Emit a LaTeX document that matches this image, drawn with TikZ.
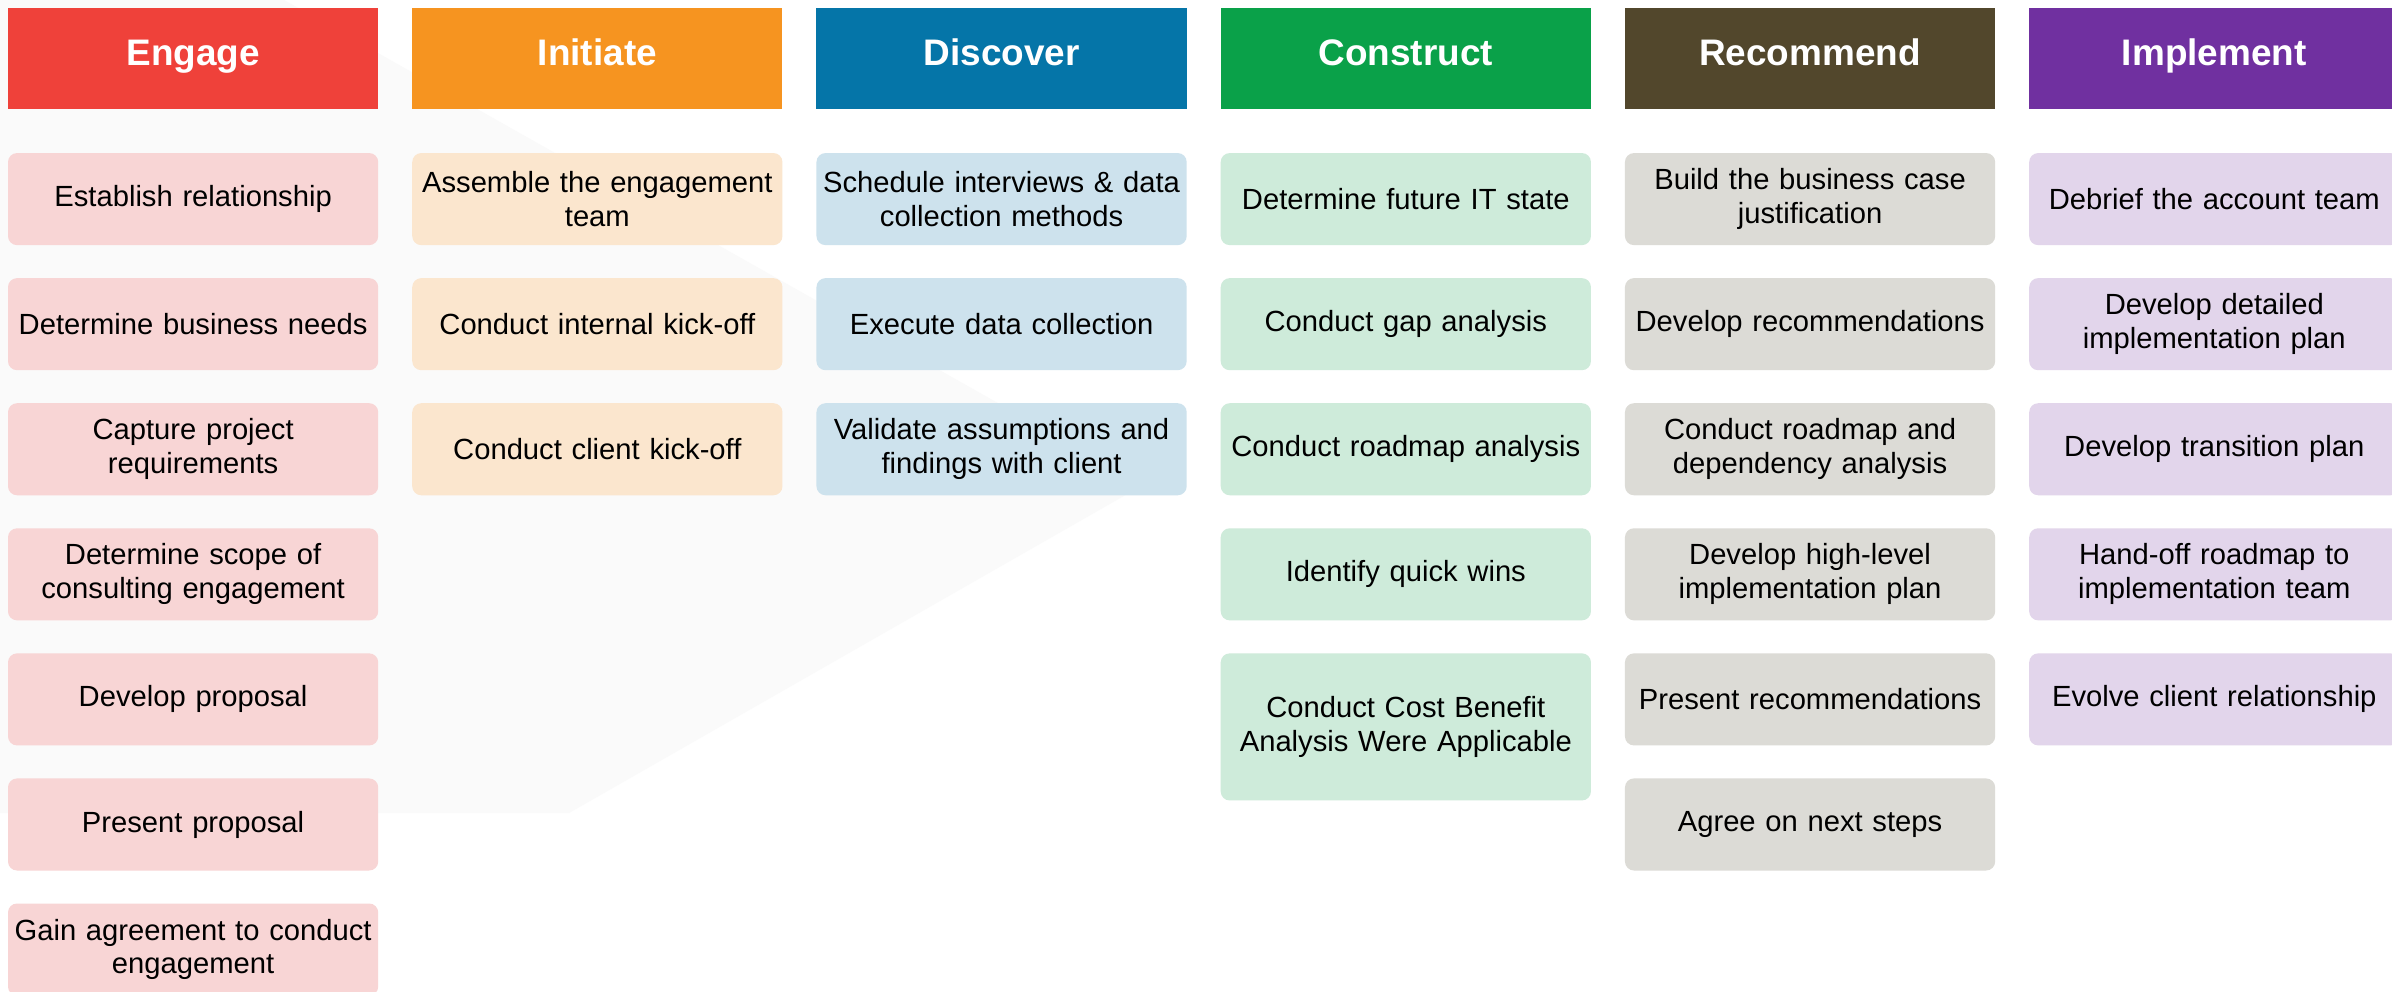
\documentclass[tikz,border=0pt]{standalone}
\usepackage{fontspec}
\setmainfont{Liberation Sans}
\usetikzlibrary{positioning}

\definecolor{engred}{HTML}{EF413A}
\definecolor{inioran}{HTML}{F69420}
\definecolor{disblue}{HTML}{0575A8}
\definecolor{congreen}{HTML}{0AA149}
\definecolor{recbrown}{HTML}{52472C}
\definecolor{imppurple}{HTML}{7030A0}
\definecolor{englight}{HTML}{F8D5D5}
\definecolor{inilight}{HTML}{FBE6CE}
\definecolor{dislight}{HTML}{CDE2ED}
\definecolor{conlight}{HTML}{CEEBDA}
\definecolor{reclight}{HTML}{DCDBD6}
\definecolor{implight}{HTML}{E2D5EB}
\definecolor{bgshade}{HTML}{FAFAFA}

\begin{document}
\begin{tikzpicture}[
            x = 0.01cm, y = -0.01cm, % pixel units, y pointing down
            node distance = 0.33cm and 0.34cm, % gap between cards / columns
            inner sep = 0pt,
            outer sep = 0pt
        ]

        \tikzstyle{phase}=[
            minimum width = 3.70cm,
            minimum height = 1.01cm,
            text = white,
            text height = 7.5pt,
            text depth = 3.8pt,
            font = \fontsize{10.5}{12}\selectfont\bfseries
        ]
        \tikzstyle{card}=[
            minimum width = 3.70cm,
            minimum height = 0.92cm,
            text width = 3.60cm,
            align = center,
            rounded corners = 0.09cm,
            font = \fontsize{8.3}{9.6}\selectfont
        ]

        \useasboundingbox (0,0) rectangle (2392,992);
        \fill[white] (0,0) rectangle (2392,992);
        % faint backdrop chevron
        \fill[bgshade] (0,0) -- (284,0) -- (1143,485) -- (569,813) -- (0,813) -- cycle;

	\node[phase, fill=engred, anchor=north west] (eng) at (8,8) {Engage};
	\node[phase, fill=inioran] (ini) [right=of eng] {Initiate};
	\node[phase, fill=disblue] (dis) [right=of ini] {Discover};
	\node[phase, fill=congreen] (con) [right=of dis] {Construct};
	\node[phase, fill=recbrown] (rec) [right=of con] {Recommend};
	\node[phase, fill=imppurple] (imp) [right=of rec] {Implement};

	% Engage
	\node[card, fill=englight] (eng1) [below=0.44cm of eng] {Establish relationship};
	\node[card, fill=englight] (eng2) [below=of eng1] {Determine business needs};
	\node[card, fill=englight] (eng3) [below=of eng2] {Capture project\\requirements};
	\node[card, fill=englight] (eng4) [below=of eng3] {Determine scope of\\consulting engagement};
	\node[card, fill=englight] (eng5) [below=of eng4] {Develop proposal};
	\node[card, fill=englight] (eng6) [below=of eng5] {Present proposal};
	\node[card, fill=englight] (eng7) [below=of eng6] {Gain agreement to conduct\\engagement};

	% Initiate
	\node[card, fill=inilight] (ini1) [below=0.44cm of ini] {Assemble the engagement\\team};
	\node[card, fill=inilight] (ini2) [below=of ini1] {Conduct internal kick-off};
	\node[card, fill=inilight] (ini3) [below=of ini2] {Conduct client kick-off};

	% Discover
	\node[card, fill=dislight] (dis1) [below=0.44cm of dis] {Schedule interviews \& data\\collection methods};
	\node[card, fill=dislight] (dis2) [below=of dis1] {Execute data collection};
	\node[card, fill=dislight] (dis3) [below=of dis2] {Validate assumptions and\\findings with client};

	% Construct
	\node[card, fill=conlight] (con1) [below=0.44cm of con] {Determine future IT state};
	\node[card, fill=conlight] (con2) [below=of con1] {Conduct gap analysis};
	\node[card, fill=conlight] (con3) [below=of con2] {Conduct roadmap analysis};
	\node[card, fill=conlight] (con4) [below=of con3] {Identify quick wins};
	\node[card, fill=conlight, minimum height=1.47cm] (con5) [below=of con4] {Conduct Cost Benefit\\Analysis Were Applicable};

	% Recommend
	\node[card, fill=reclight] (rec1) [below=0.44cm of rec] {Build the business case\\justification};
	\node[card, fill=reclight] (rec2) [below=of rec1] {Develop recommendations};
	\node[card, fill=reclight] (rec3) [below=of rec2] {Conduct roadmap and\\dependency analysis};
	\node[card, fill=reclight] (rec4) [below=of rec3] {Develop high-level\\implementation plan};
	\node[card, fill=reclight] (rec5) [below=of rec4] {Present recommendations};
	\node[card, fill=reclight] (rec6) [below=of rec5] {Agree on next steps};

	% Implement
	\node[card, fill=implight] (imp1) [below=0.44cm of imp] {Debrief the account team};
	\node[card, fill=implight] (imp2) [below=of imp1] {Develop detailed\\implementation plan};
	\node[card, fill=implight] (imp3) [below=of imp2] {Develop transition plan};
	\node[card, fill=implight] (imp4) [below=of imp3] {Hand-off roadmap to\\implementation team};
	\node[card, fill=implight] (imp5) [below=of imp4] {Evolve client relationship};

    \end{tikzpicture}
\end{document}
